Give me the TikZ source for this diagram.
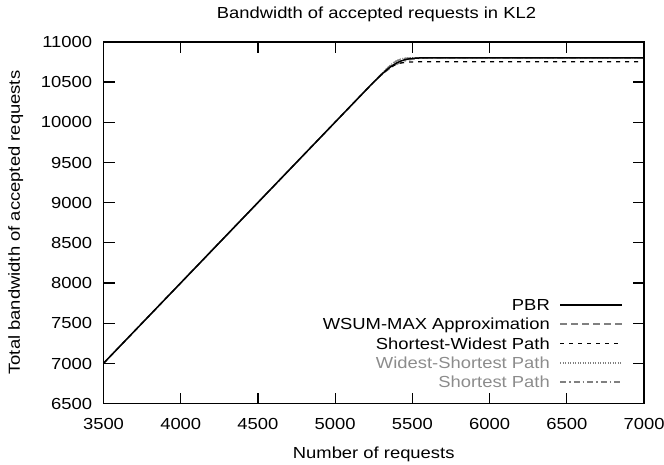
\documentclass[tikz,border=0pt]{standalone}
\usepackage{fontspec}
\setmainfont{Liberation Sans}[FakeStretch=1.15]
\usetikzlibrary{calc}
\definecolor{lgray}{RGB}{128,128,128}
\definecolor{tgray}{RGB}{140,140,140}

\tikzset{
 frame/.style={black, line width=1.7pt},
 tickline/.style={black, line width=1.2pt},
 lbl/.style={inner sep=0, font=\fontsize{16}{19}\selectfont},
 pbr/.style={black, line width=1.5pt},
 wsum/.style={lgray, line width=1.3pt, dash pattern=on 7pt off 4pt},
 swp/.style={black, line width=1.3pt, dash pattern=on 4pt off 5pt},
 wsp/.style={lgray, line width=1.3pt, dash pattern=on 1pt off 1.5pt},
 spath/.style={lgray, line width=1.1pt, dash pattern=on 6pt off 3pt on 1.5pt off 3pt},
}

\begin{document}
\begin{tikzpicture}[x=1pt,y=1pt]
\useasboundingbox (0,0) rectangle (664,464);
\begin{scope}[shift={(-437pt,-462.1pt)}, x=0.154429pt, y=0.0804pt]
\coordinate (ll) at (3500,6500);
\coordinate (ur) at (7000,11000);
% curves
\draw[spath] (3500,7000) -- (5100,10200) .. controls (5400,10800) .. (5750,10800) -- (7000,10800);
\draw[wsp] (3500,7000) -- (5270,10540) .. controls (5400,10800) .. (5530,10800) -- (7000,10800);
\draw[swp] (3500,7000) -- (5175,10350) .. controls (5375,10750) .. (5575,10750) -- (7000,10750);
\draw[wsum] (3500,7000) -- (5250,10500) .. controls (5400,10800) .. (5550,10800) -- (7000,10800);
\draw[pbr] (3500,7000) -- (5150,10300) .. controls (5400,10800) .. (5650,10800) -- (7000,10800);
% ticks
\foreach \x in {3500,4000,...,7000} {
 \draw[tickline] (\x,6500) --++(0,11pt);
 \draw[tickline] (\x,11000) --++(0,-11pt);
 \node[lbl, anchor=base, yshift=-25.5pt] (xt\x) at (\x,6500) {\x};
}
\foreach \y in {6500,7000,...,11000} {
 \draw[tickline] (3500,\y) --++(11pt,0);
 \draw[tickline] (7000,\y) --++(-11pt,0);
 \node[lbl, anchor=base east, xshift=-11.2pt, yshift=-5.75pt] (yt\y) at (3500,\y) {\y};
}
\draw[frame] (ll) rectangle (ur);
\end{scope}
\node[lbl, anchor=base] (title) at (376.5,445.7) {Bandwidth of accepted requests in KL2};
\node[lbl, anchor=base] (xlab) at (373.7,5.7) {Number of requests};
\node[lbl, anchor=base, rotate=90] (ylab) at (20,241.4) {Total bandwidth of accepted requests};
% legend
\node[lbl, anchor=base east] (lpbr) at (550,153.25) {PBR};
\node[lbl, anchor=base east] (lwsum) at (550,134.25) {WSUM-MAX Approximation};
\node[lbl, anchor=base east] (lswp) at (550,114.75) {Shortest-Widest Path};
\node[lbl, anchor=base east, tgray] (lwsp) at (550,95.25) {Widest-Shortest Path};
\node[lbl, anchor=base east, tgray] (lsp) at (550,76.25) {Shortest Path};
\draw[pbr] ($(lpbr.base east)+(10,5.75)$) -- ++(62,0);
\draw[wsum] ($(lwsum.base east)+(10,5.75)$) -- ++(62,0);
\draw[swp] ($(lswp.base east)+(10,5.75)$) -- ++(62,0);
\draw[wsp] ($(lwsp.base east)+(10,5.75)$) -- ++(62,0);
\draw[spath] ($(lsp.base east)+(10,5.75)$) -- ++(62,0);
\end{tikzpicture}
\end{document}
